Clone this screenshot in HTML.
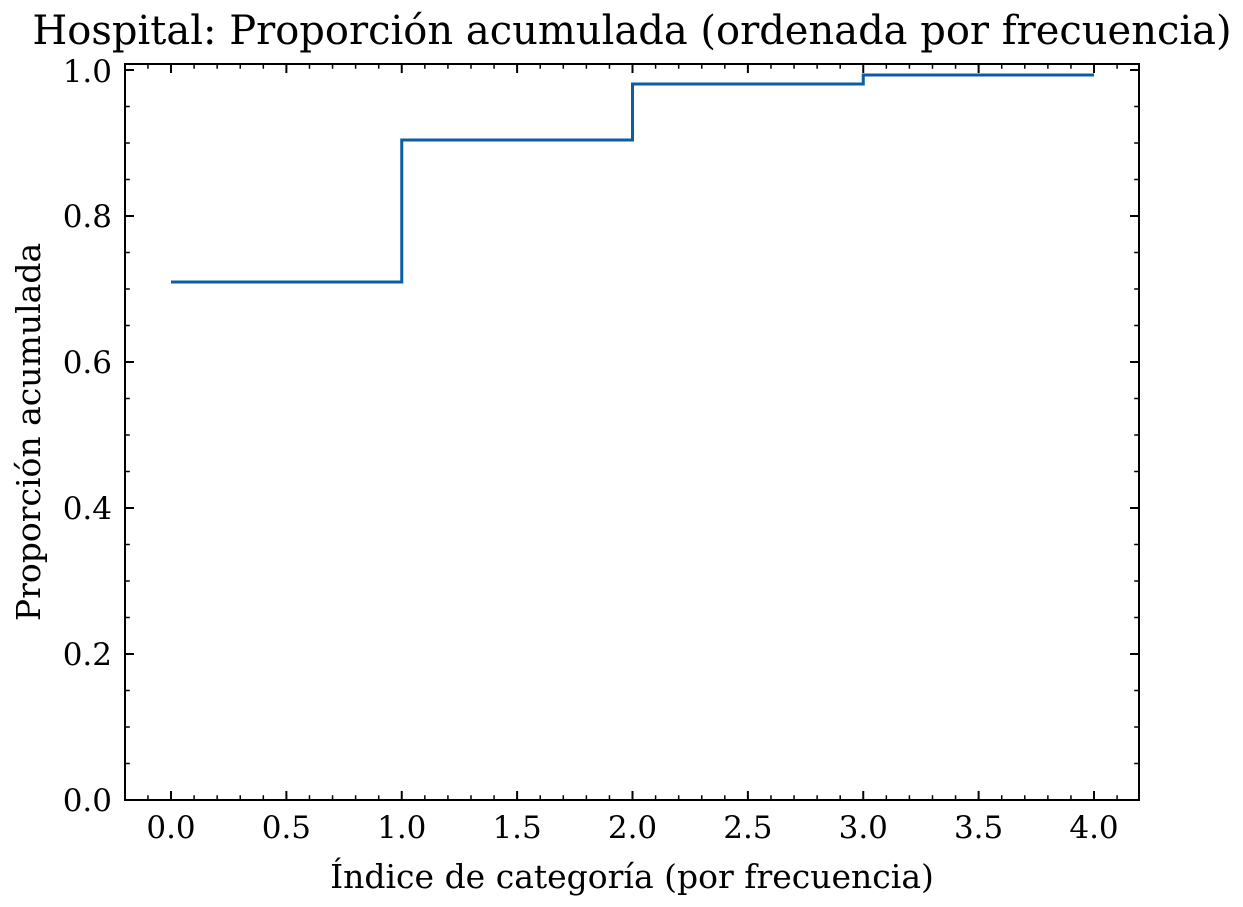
<!DOCTYPE html>
<html><head><meta charset="utf-8"><style>
html,body{margin:0;padding:0;background:#fff;}
svg{display:block;}
text{font-family:"DejaVu Serif","Liberation Serif",serif;fill:#000;}
</style></head><body>
<svg width="1243" height="907" viewBox="0 0 1243 907" xmlns="http://www.w3.org/2000/svg">
<rect width="1243" height="907" fill="#fff"/>
<polyline fill="none" stroke="#0C5DA5" stroke-width="3" points="171,282 401.75,282 401.75,140 632.5,140 632.5,84 863.25,84 863.25,75 1094,75"/>
<line x1="147.2" y1="797.6" x2="1139" y2="797.6" stroke="#000" stroke-width="4.8" stroke-dasharray="1.5 21.575"/>
<line x1="147.2" y1="66.4" x2="1139" y2="66.4" stroke="#000" stroke-width="4.8" stroke-dasharray="1.5 21.575"/>
<line x1="170" y1="795.5" x2="1139" y2="795.5" stroke="#000" stroke-width="9" stroke-dasharray="2 113.375"/>
<line x1="170" y1="68.5" x2="1139" y2="68.5" stroke="#000" stroke-width="9" stroke-dasharray="2 113.375"/>
<line x1="127.4" y1="800.75" x2="127.4" y2="64" stroke="#000" stroke-width="4.8" stroke-dasharray="1.5 35"/>
<line x1="1136.6" y1="800.75" x2="1136.6" y2="64" stroke="#000" stroke-width="4.8" stroke-dasharray="1.5 35"/>
<line x1="129.5" y1="801" x2="129.5" y2="64" stroke="#000" stroke-width="9" stroke-dasharray="2 144"/>
<line x1="1134.5" y1="801" x2="1134.5" y2="64" stroke="#000" stroke-width="9" stroke-dasharray="2 144"/>
<rect x="125" y="64" width="1014" height="736" fill="none" stroke="#000" stroke-width="2"/>
<g font-size="31" text-anchor="end">
<text x="112" y="811">0.0</text>
<text x="112" y="665">0.2</text>
<text x="112" y="519">0.4</text>
<text x="112" y="373">0.6</text>
<text x="112" y="227">0.8</text>
<text x="112" y="82">1.0</text>
</g>
<g font-size="31" text-anchor="middle">
<text x="171" y="838">0.0</text>
<text x="286.4" y="838">0.5</text>
<text x="401.75" y="838">1.0</text>
<text x="517.1" y="838">1.5</text>
<text x="632.5" y="838">2.0</text>
<text x="747.9" y="838">2.5</text>
<text x="863.25" y="838">3.0</text>
<text x="978.6" y="838">3.5</text>
<text x="1094" y="838">4.0</text>
</g>
<text x="632" y="888" font-size="33" text-anchor="middle">Índice de categoría (por frecuencia)</text>
<text transform="translate(40,432) rotate(-90)" font-size="33" text-anchor="middle">Proporción acumulada</text>
<text x="632" y="44" font-size="40" text-anchor="middle">Hospital: Proporción acumulada (ordenada por frecuencia)</text>
</svg>
</body></html>
